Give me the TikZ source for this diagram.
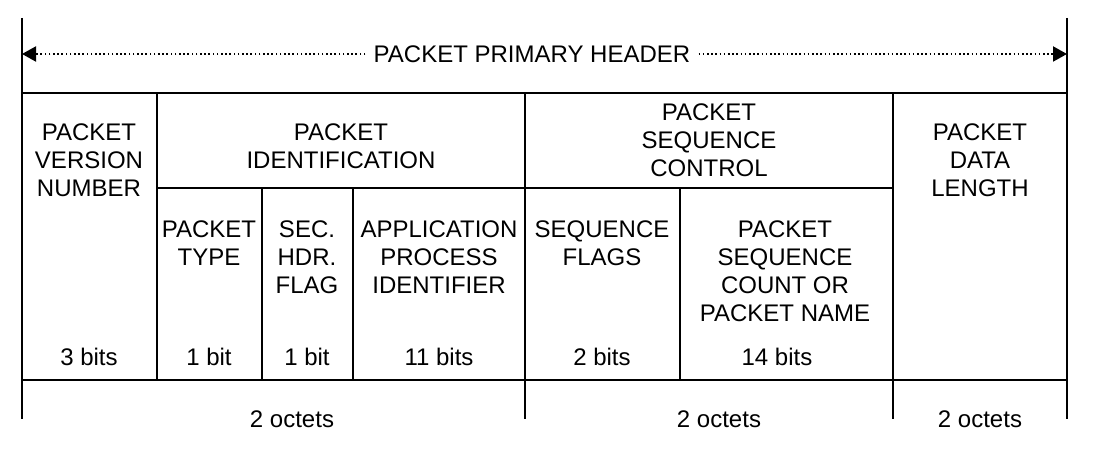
\documentclass[tikz,border=0pt]{standalone}
\usepackage{fontspec}
\setmainfont{Liberation Sans}
\usetikzlibrary{arrows.meta,positioning}
\tikzset{
	rule/.style={line width=1pt},
	field/.style={align=center,inner sep=0pt,font=\fontsize{12}{14}\selectfont},
	bits/.style={inner sep=0pt,font=\fontsize{12}{14}\selectfont},
	span/.style={line width=1pt,dash pattern=on 0.8pt off 1.3pt,
		-{Triangle[length=7pt,width=7.5pt]}}
}

\begin{document}
\begin{tikzpicture}[x=0.5pt,y=-0.5pt]
	\useasboundingbox (0,0) rectangle (1119,453);
	% frame
	\draw[rule] (22,18) -- (22,419) (1067,18) -- (1067,419);
	\draw[rule] (22,93) -- (1067,93) (22,380) -- (1067,380);
	\foreach \x in {525,893}
		\draw[rule] (\x,93) -- (\x,419);
	\draw[rule] (157,93) -- (157,380) (157,188) -- (893,188);
	\foreach \x in {262,353,680}
		\draw[rule] (\x,188) -- (\x,380);
	% header span
	\node[bits,inner xsep=4pt] (hdr) at (532,54) {PACKET PRIMARY HEADER};
	\coordinate (lend) at (22,54);
	\coordinate (rend) at (1067,54);
	\draw[span] (hdr.west) -- (lend);
	\draw[span] (hdr.east) -- (rend);
	% fields
	\node[field] (pvn) at (89,160) {PACKET\\VERSION\\NUMBER};
	\node[field] (pid) at (341,146) {PACKET\\IDENTIFICATION};
	\node[field] (psc) at (709,140) {PACKET\\SEQUENCE\\CONTROL};
	\node[field] (pdl) at (980,160) {PACKET\\DATA\\LENGTH};
	\node[field,anchor=north] (ptype) at (209,220) {PACKET\\TYPE};
	\node[field,anchor=north] (shf) at (307,220) {SEC.\\HDR.\\FLAG};
	\node[field,anchor=north] (apid) at (439,220) {APPLICATION\\PROCESS\\IDENTIFIER};
	\node[field,anchor=north] (sflags) at (602,220) {SEQUENCE\\FLAGS};
	\node[field,anchor=north] (pscount) at (785,220) {PACKET\\SEQUENCE\\COUNT OR\\PACKET NAME};
	% sizes
	\node[bits] (b1) at (89,357) {3 bits};
	\node[bits] (b2) at (209,357) {1 bit};
	\node[bits] (b3) at (307,357) {1 bit};
	\node[bits] (b4) at (439,357) {11 bits};
	\node[bits] (b5) at (602,357) {2 bits};
	\node[bits] (b6) at (777,357) {14 bits};
	\node[bits] (o1) at (292,419) {2 octets};
	\node[bits] (o2) at (719,419) {2 octets};
	\node[bits] (o3) at (980,419) {2 octets};
\end{tikzpicture}
\end{document}
